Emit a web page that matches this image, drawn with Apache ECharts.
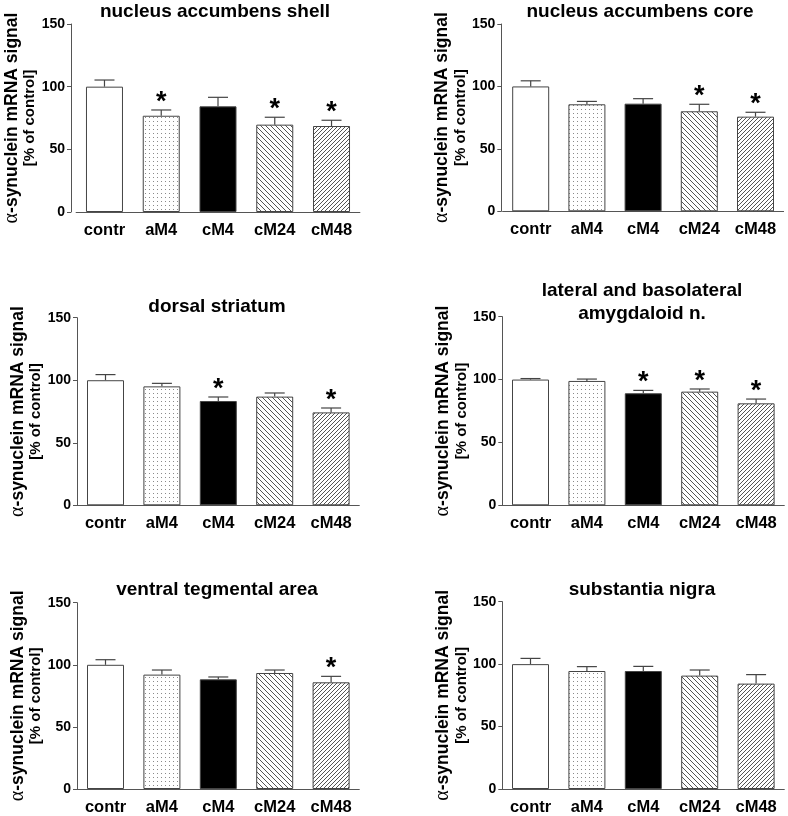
<!DOCTYPE html>
<html>
<head>
<meta charset="utf-8">
<script src="https://cdn.jsdelivr.net/npm/echarts@6/dist/echarts.min.js"></script>
<style>
html,body{margin:0;padding:0;background:#fff;}
#chart{width:788px;height:816px;}
</style>
</head>
<body>
<div id="chart"></div>
<script>
// ---- data ----
const categories = ['contr', 'aM4', 'cM4', 'cM24', 'cM48'];
const panelTitles = [
  'nucleus accumbens shell',
  'nucleus accumbens core',
  'dorsal striatum',
  'lateral and basolateral\namygdaloid n.',
  'ventral tegmental area',
  'substantia nigra'
];
const yTicks = [0, 50, 100, 150];

const meanShell  = [100, 76.8, 84.3, 69.7, 68.6];
const semShell   = [5.3, 4.6, 7.2, 5.9, 4.6];
const sigShell   = [0, 1, 0, 1, 1];

const meanCore   = [100, 85.7, 86.2, 80.1, 75.8];
const semCore    = [4.5, 2.3, 4.0, 5.6, 3.5];
const sigCore    = [0, 0, 0, 1, 1];

const meanDorsal = [100, 95.1, 83.4, 86.9, 74.3];
const semDorsal  = [4.5, 2.4, 3.2, 2.9, 3.5];
const sigDorsal  = [0, 0, 1, 0, 1];

const meanAmyg   = [100, 98.9, 89.1, 90.4, 81.1];
const semAmyg    = [0.8, 1.5, 2.3, 2.1, 3.4];
const sigAmyg    = [0, 0, 1, 1, 1];

const meanVTA    = [100, 92.1, 88.3, 93.4, 85.9];
const semVTA     = [4.1, 3.7, 1.9, 2.4, 4.8];
const sigVTA     = [0, 0, 0, 0, 1];

const meanSN     = [100, 94.5, 94.5, 90.8, 84.4];
const semSN      = [4.6, 3.5, 3.7, 4.5, 7.2];
const sigSN      = [0, 0, 0, 0, 0];

const panelMeans = [meanShell, meanCore, meanDorsal, meanAmyg, meanVTA, meanSN];
const panelSems  = [semShell, semCore, semDorsal, semAmyg, semVTA, semSN];
const panelSigs  = [sigShell, sigCore, sigDorsal, sigAmyg, sigVTA, sigSN];

// ---- layout (pixels) ----
const layout = [
  {left: 76.1,  width: 283.8, top: 24,    height: 188,   axisX: 71,    titleX: 215, titleY: 0},
  {left: 502.6, width: 281,   top: 24,    height: 187.3, axisX: 501.3, titleX: 640, titleY: 0},
  {left: 77.3,  width: 282,   top: 317.7, height: 187.6, axisX: 77,    titleX: 217, titleY: 295},
  {left: 502.3, width: 282,   top: 316.7, height: 188.6, axisX: 502.3, titleX: 642, titleY: 279},
  {left: 77.3,  width: 282,   top: 602.7, height: 187.3, axisX: 77,    titleX: 217, titleY: 578},
  {left: 502.3, width: 282,   top: 601.7, height: 188.3, axisX: 502.3, titleX: 642, titleY: 578}
];

// ---- fill patterns ----
function makeTile(size, draw) {
  const c = document.createElement('canvas');
  c.width = size; c.height = size;
  const ctx = c.getContext('2d');
  ctx.fillStyle = '#fff';
  ctx.fillRect(0, 0, size, size);
  draw(ctx, size);
  return {image: c, repeat: 'repeat'};
}
const dotFill = makeTile(4, (ctx) => {
  ctx.fillStyle = '#8a8a8a';
  ctx.fillRect(1, 1, 1, 1);
});
function hatch(size, back) {
  return makeTile(size, (ctx, s) => {
    ctx.strokeStyle = '#555';
    ctx.lineWidth = 1;
    ctx.beginPath();
    if (back) {
      ctx.moveTo(-1, -1); ctx.lineTo(s + 1, s + 1);
      ctx.moveTo(-1, s - 1); ctx.lineTo(1, s + 1);
      ctx.moveTo(s - 1, -1); ctx.lineTo(s + 1, 1);
    } else {
      ctx.moveTo(-1, s + 1); ctx.lineTo(s + 1, -1);
      ctx.moveTo(-1, 1); ctx.lineTo(1, -1);
      ctx.moveTo(s - 1, s + 1); ctx.lineTo(s + 1, s - 1);
    }
    ctx.stroke();
  });
}
const fills = ['#ffffff', dotFill, '#000000', hatch(5, true), hatch(4, false)];

const FONT = "'Liberation Sans', Arial, sans-serif";

const titles = [], grids = [], xAxes = [], yAxes = [], series = [];
layout.forEach((L, i) => {
  titles.push({
    text: panelTitles[i],
    left: L.titleX, top: L.titleY, padding: 0,
    textAlign: 'center',
    textStyle: {fontFamily: FONT, fontWeight: 'bold', fontSize: 19, lineHeight: 23, color: '#000'}
  });
  grids.push({left: L.left, top: L.top, width: L.width, height: L.height});
  xAxes.push({
    type: 'category', gridIndex: i, data: categories,
    axisLine: {lineStyle: {color: '#555', width: 1}},
    axisTick: {show: false},
    axisLabel: {margin: 10, color: '#000', fontFamily: FONT, fontWeight: 'bold', fontSize: 16.5}
  });
  yAxes.push({
    type: 'value', gridIndex: i, min: 0, max: 150, interval: 50,
    offset: L.left - L.axisX,
    axisLine: {show: true, lineStyle: {color: '#555', width: 1}},
    axisTick: {show: true, length: 4, lineStyle: {color: '#555'}},
    splitLine: {show: false},
    axisLabel: {margin: 6, color: '#000', fontFamily: FONT, fontWeight: 'bold', fontSize: 14},
    name: '{a|α}{b|-synuclein mRNA signal}\n{c|[% of control]}',
    nameLocation: 'middle', nameGap: 29, nameRotate: 90,
    nameTextStyle: {
      align: 'center',
      rich: {
        a: {fontFamily: "'Liberation Serif', 'Times New Roman', serif", fontSize: 20, color: '#000', lineHeight: 20},
        b: {fontFamily: FONT, fontWeight: 'bold', fontSize: 17.5, color: '#000', lineHeight: 20},
        c: {fontFamily: FONT, fontWeight: 'bold', fontSize: 15, color: '#000', lineHeight: 17}
      }
    }
  });
  series.push({
    type: 'bar', xAxisIndex: i, yAxisIndex: i, barWidth: 37,
    data: panelMeans[i].map((v, k) => ({value: v, itemStyle: {color: fills[k]}})),
    itemStyle: {borderColor: '#444', borderWidth: 1},
    emphasis: {disabled: true}, silent: true
  });
  series.push({
    type: 'custom', xAxisIndex: i, yAxisIndex: i, silent: true,
    data: panelMeans[i].map((v, k) => [k, v, v + panelSems[i][k], panelSigs[i][k]]),
    encode: {x: 0, y: 1},
    renderItem: (params, api) => {
      const x = api.value(0), m = api.value(1), e = api.value(2), s = api.value(3);
      const p0 = api.coord([x, m]);
      const p1 = api.coord([x, e]);
      const st = {stroke: '#444', lineWidth: 1.2};
      const children = [
        {type: 'line', shape: {x1: p0[0], y1: p0[1], x2: p1[0], y2: p1[1]}, style: st},
        {type: 'line', shape: {x1: p1[0] - 10, y1: p1[1], x2: p1[0] + 10, y2: p1[1]}, style: st}
      ];
      if (s) {
        children.push({
          type: 'text', x: p1[0], y: p1[1] + 6,
          style: {text: '*', fontFamily: FONT, fontWeight: 'bold', fontSize: 27, fill: '#000',
                  align: 'center', verticalAlign: 'bottom'}
        });
      }
      return {type: 'group', children};
    }
  });
});

const chart = echarts.init(document.getElementById('chart'), null, {renderer: 'canvas'});
chart.setOption({
  backgroundColor: '#fff',
  animation: false,
  title: titles,
  grid: grids,
  xAxis: xAxes,
  yAxis: yAxes,
  series: series
});
</script>
</body>
</html>
